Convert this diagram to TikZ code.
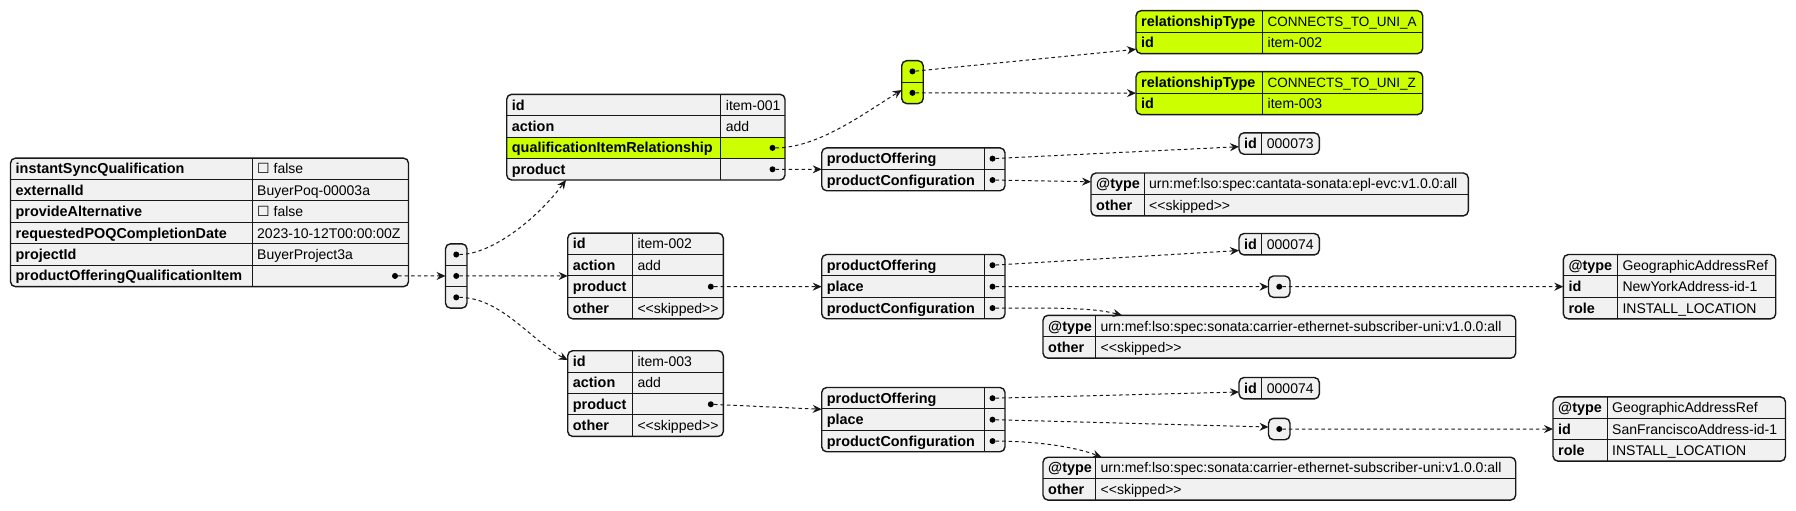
\documentclass[tikz,border=0pt]{standalone}
\usepackage{fontspec}
\setmainfont{Liberation Sans}
\newfontfamily\symfont{DejaVu Sans}
\usetikzlibrary{arrows.meta,calc}
\definecolor{tblfill}{HTML}{F1F1F1}
\definecolor{hl}{HTML}{CCFF00}
\definecolor{ln}{HTML}{181818}
\def\rowh{21.43}
\newcommand\capsval[1]{{\fontsize{13.5}{17}\selectfont #1}}
\tikzset{
  tblframe/.style={fill=#1, draw=none, inner sep=0pt, outer sep=0pt, anchor=north west, rectangle, rounded corners=5pt},
  tblborder/.style={draw=ln, line width=1.4pt, rounded corners=5pt},
  rowline/.style={draw=ln, line width=1pt},
  keytext/.style={anchor=base west, inner sep=0pt, font=\fontsize{14.4}{17}\selectfont\bfseries},
  valtext/.style={anchor=base west, inner sep=0pt, font=\fontsize{14}{17}\selectfont},
  jdot/.style={circle, fill=black, draw=none, inner sep=0pt, minimum size=6pt},
  link/.style={draw=ln, line width=1pt, dash pattern=on 3.5pt off 3pt, -{Stealth[length=9pt,width=8pt,inset=3pt]}},
}
% #1 name #2 x #3 y #4 key width #5 width #6 rows #7 fill #8 highlighted row #9 key/value list
\newcommand\jtab[9]{%
  \node[tblframe=#7, minimum width=#5pt, minimum height=#6*\rowh pt] (#1) at (#2,#3) {};
  \foreach \k/\v [count=\i] in {#9}{%
    \ifnum\i=#8\relax \fill[hl] (#2,{#3+(\i-1)*\rowh}) rectangle ++(#5,\rowh);\fi
    \ifnum\i>1\relax \draw[rowline] (#2,{#3+(\i-1)*\rowh}) -- ++(#5,0);\fi
    \node[keytext] (#1-k\i) at ({#2+5},{#3+(\i-0.5)*\rowh+5}) {\k};
    \node[valtext] (#1-v\i) at ({#2+#4+5},{#3+(\i-0.5)*\rowh+5}) {\v};
  }
  \draw[rowline] ({#2+#4},#3) -- ++(0,{#6*\rowh});
  \draw[tblborder] (#1.north west) rectangle (#1.south east);
}
% #1 name #2 x #3 y #4 rows #5 fill
\newcommand\jarr[5]{%
  \node[tblframe=#5, minimum width=21.5pt, minimum height=#4*\rowh pt] (#1) at (#2,#3) {};
  \foreach \i in {1,...,#4}{%
    \ifnum\i>1\relax \draw[rowline] (#2,{#3+(\i-1)*\rowh}) -- ++(21.5,0);\fi
    \node[jdot] (#1-d\i) at ({#2+10.75},{#3+(\i-0.5)*\rowh}) {};
  }
  \draw[tblborder] (#1.north west) rectangle (#1.south east);
}
\newcommand\jdot[3][12.5]{\node[jdot] (#2-d#3) at ($(#2.north east)+(-#1,{(#3-0.5)*\rowh})$) {};}
\begin{document}
\begin{tikzpicture}[x=1pt,y=-1pt]
\path[use as bounding box, fill=white] (0,0) rectangle (1796,511);

\jtab{main}{10.5}{158.1}{241.5}{398}{6}{tblfill}{0}{instantSyncQualification/{\symfont ☐} false,%
externalId/BuyerPoq-00003a,%
provideAlternative/{\symfont ☐} false,%
requestedPOQCompletionDate/2023-10-12T00:00:00Z,%
projectId/BuyerProject3a,%
productOfferingQualificationItem/}
\jdot[13.5]{main}{6}

\jarr{arr1}{445.5}{243.8}{3}{tblfill}

\jtab{item1}{506.7}{94.3}{214}{278.3}{4}{tblfill}{3}{id/item-001,action/add,qualificationItemRelationship/,product/}
\jdot{item1}{3}\jdot{item1}{4}

\jtab{item2}{567.7}{233.1}{64.6}{155.6}{4}{tblfill}{0}{id/item-002,action/add,product/,other/<\kern0pt<skipped>\kern0pt>}
\jdot{item2}{3}

\jtab{item3}{567.7}{350.7}{64.6}{155.6}{4}{tblfill}{0}{id/item-003,action/add,product/,other/<\kern0pt<skipped>\kern0pt>}
\jdot{item3}{3}

\jarr{arr2}{901.7}{60.7}{2}{hl}

\jtab{relA}{1136}{10.7}{126.5}{286.7}{2}{hl}{0}{relationshipType/\capsval{CONNECTS\_TO\_UNI\_A},id/item-002}
\jtab{relZ}{1136}{71.7}{126.5}{286.7}{2}{hl}{0}{relationshipType/\capsval{CONNECTS\_TO\_UNI\_Z},id/item-003}

\jtab{prod1}{821.7}{147.9}{162.5}{183.3}{2}{tblfill}{0}{productOffering/,productConfiguration/}
\jdot{prod1}{1}\jdot{prod1}{2}
\jtab{id1}{1239}{132.8}{22.7}{80.3}{1}{tblfill}{0}{id/000073}
\jtab{conf1}{1091}{173}{53}{377.3}{2}{tblfill}{0}{@type/urn:mef:lso:spec:cantata-sonata:epl-evc:v1.0.0:all,other/<\kern0pt<skipped>\kern0pt>}

\jtab{prod2}{821.7}{254.5}{162.5}{183.3}{3}{tblfill}{0}{productOffering/,place/,productConfiguration/}
\jdot{prod2}{1}\jdot{prod2}{2}\jdot{prod2}{3}
\jtab{id2}{1239}{233.5}{22.7}{80.3}{1}{tblfill}{0}{id/000074}
\jarr{pl1}{1268.5}{275.97}{1}{tblfill}
\jtab{ny}{1563.3}{254.53}{54}{212.4}{3}{tblfill}{0}{@type/GeographicAddressRef,id/NewYorkAddress-id-1,role/INSTALL\_LOCATION}
\jtab{conf2}{1043}{315.3}{52.5}{472.7}{2}{tblfill}{0}{@type/urn:mef:lso:spec:sonata:carrier-ethernet-subscriber-uni:v1.0.0:all,other/<\kern0pt<skipped>\kern0pt>}

\jtab{prod3}{821.7}{387.5}{162.5}{183.3}{3}{tblfill}{0}{productOffering/,place/,productConfiguration/}
\jdot{prod3}{1}\jdot{prod3}{2}\jdot{prod3}{3}
\jtab{id3}{1239}{377.5}{22.7}{80.3}{1}{tblfill}{0}{id/000074}
\jarr{pl2}{1268.5}{418.3}{1}{tblfill}
\jtab{sf}{1553}{396.9}{54}{232.5}{3}{tblfill}{0}{@type/GeographicAddressRef,id/SanFranciscoAddress-id-1,role/INSTALL\_LOCATION}
\jtab{conf3}{1043}{457.2}{52.5}{472.7}{2}{tblfill}{0}{@type/urn:mef:lso:spec:sonata:carrier-ethernet-subscriber-uni:v1.0.0:all,other/<\kern0pt<skipped>\kern0pt>}

% connectors
\draw[link] (main-d6) -- (arr1.west);
\draw[link] (arr1-d1) .. controls +(35,0) and +(-30,40) .. ([xshift=59.3pt]item1.south west);
\draw[link] (arr1-d2) -- (item2.west);
\draw[link] (arr1-d3) .. controls +(45,0) and +(-35,-18) .. ([yshift=-9.3pt]item3.north west);
\draw[link] (item1-d3) .. controls +(45,0) and +(-40,25) .. ([yshift=-7.9pt]arr2.west);
\draw[link] (item1-d4) -- (prod1.west);
\draw[link] (arr2-d1) -- ([yshift=-17.2pt]relA.west);
\draw[link] (arr2-d2) -- (relZ.west);
\draw[link] (prod1-d1) -- ([yshift=-3.2pt]id1.west);
\draw[link] (prod1-d2) -- ([yshift=12.7pt]conf1.west);
\draw[link] (item2-d3) -- (prod2.west);
\draw[link] (prod2-d1) -- ([yshift=-6.3pt]id2.west);
\draw[link] (prod2-d2) -- (pl1.west);
\draw[link] (prod2-d3) .. controls +(60,0) and +(-30,-8) .. ([xshift=79pt]conf2.north west);
\draw[link] (pl1-d1) -- (ny.west);
\draw[link] (item3-d3) -- ([yshift=10.35pt]prod3.west);
\draw[link] (prod3-d1) -- ([yshift=-3.8pt]id3.west);
\draw[link] (prod3-d2) -- ([yshift=2pt]pl2.west);
\draw[link] (prod3-d3) .. controls +(45,0) and +(-25,-10) .. ([xshift=58.5pt]conf3.north west);
\draw[link] (pl2-d1) -- (sf.west);
\end{tikzpicture}
\end{document}
